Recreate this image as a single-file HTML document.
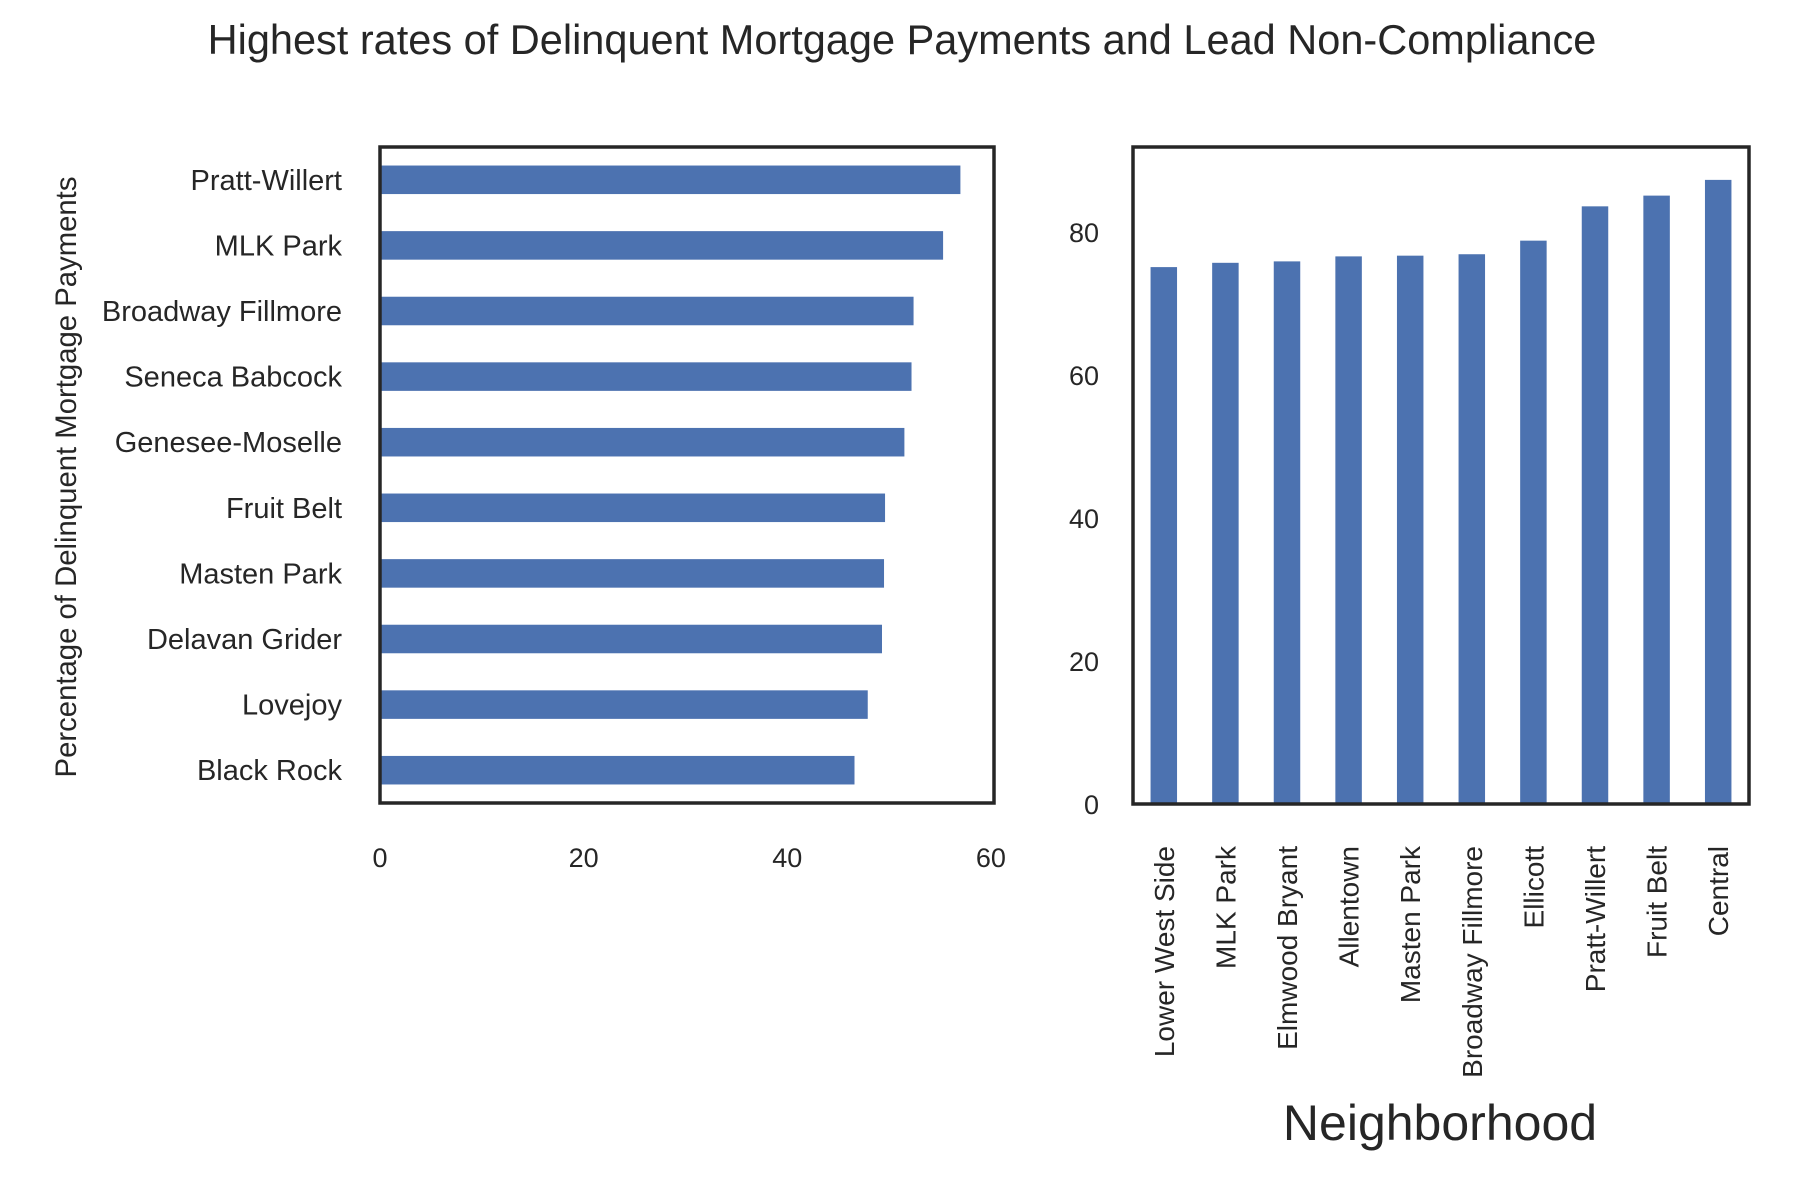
<!DOCTYPE html>
<html><head><meta charset="utf-8"><style>
html,body{margin:0;padding:0;background:#fff}
svg{display:block}
text{font-family:"Liberation Sans",Arial,sans-serif;fill:#262626}
</style></head><body>
<svg id="chart" width="1800" height="1200" viewBox="0 0 1800 1200">
<text x="902" y="54" font-size="41.5" text-anchor="middle">Highest rates of Delinquent Mortgage Payments and Lead Non-Compliance</text>
<g id="left"></g>
<g id="right"></g>
</svg>
<script>
const leftCats = ["Pratt-Willert","MLK Park","Broadway Fillmore","Seneca Babcock","Genesee-Moselle","Fruit Belt","Masten Park","Delavan Grider","Lovejoy","Black Rock"];
const leftVals = [57.0,55.3,52.4,52.2,51.5,49.6,49.5,49.3,47.9,46.6];
const leftTicks = [0,20,40,60];
const rightCats = ["Lower West Side","MLK Park","Elmwood Bryant","Allentown","Masten Park","Broadway Fillmore","Ellicott","Pratt-Willert","Fruit Belt","Central"];
const rightVals = [75.1,75.7,75.9,76.6,76.7,76.9,78.8,83.6,85.1,87.3];
const rightTicks = [0,20,40,60,80];

const NS="http://www.w3.org/2000/svg";
function mk(tag,attrs,parent,txt){const e=document.createElementNS(NS,tag);for(const k in attrs)e.setAttribute(k,attrs[k]);if(txt!==undefined)e.textContent=txt;parent.appendChild(e);return e;}
const COLOR="#4c72b0";

// Left panel: horizontal bars
const L={x0:380,x1:994,y0:147,y1:803,xmax:60.3};
const lg=document.getElementById('left');
const lx=v=>L.x0+(v/L.xmax)*(L.x1-L.x0);
const slotL=(L.y1-L.y0)/leftCats.length;
const ly=i=>L.y0+slotL*(i+0.5);
leftVals.forEach((v,i)=>{
  const r=mk('rect',{x:L.x0,y:ly(i)-slotL*0.435/2,width:lx(v)-L.x0,height:slotL*0.435,fill:COLOR},lg);
  
  
  const t=mk('text',{x:342,y:ly(i)+10,'font-size':29,'text-anchor':'end'},lg,leftCats[i]);
  
  
});
leftTicks.forEach(v=>{
  const t=mk('text',{x:lx(v),y:867,'font-size':27,'text-anchor':'middle'},lg,String(v));
  
  
});
const lf=mk('rect',{x:L.x0,y:L.y0,width:L.x1-L.x0,height:L.y1-L.y0,fill:'none',stroke:'#262626','stroke-width':3.5},lg);


const yl=mk('text',{x:0,y:0,'font-size':29.3,'text-anchor':'middle',transform:'translate(76,477) rotate(-90)'},lg,'Percentage of Delinquent Mortgage Payments');



// Right panel: vertical bars
const R={x0:1133,x1:1749,y0:147,y1:804,ymax:91.9};
const rg=document.getElementById('right');
const ry=v=>R.y1-(v/R.ymax)*(R.y1-R.y0);
const slotR=(R.x1-R.x0)/rightCats.length;
const rx=i=>R.x0+slotR*(i+0.5);
rightVals.forEach((v,i)=>{
  const r=mk('rect',{x:rx(i)-slotR*0.43/2,y:ry(v),width:slotR*0.43,height:R.y1-ry(v),fill:COLOR},rg);
  
  
  const t=mk('text',{x:0,y:0,'font-size':28,'text-anchor':'end',transform:`translate(${rx(i)+10},846) rotate(-90)`},rg,rightCats[i]);
  
  
});
rightTicks.forEach(v=>{
  const t=mk('text',{x:1099,y:ry(v)+10,'font-size':27,'text-anchor':'end'},rg,String(v));
  
  
});
const rf=mk('rect',{x:R.x0,y:R.y0,width:R.x1-R.x0,height:R.y1-R.y0,fill:'none',stroke:'#262626','stroke-width':3.5},rg);


const xl=mk('text',{x:1440,y:1140,'font-size':50,'text-anchor':'middle'},rg,'Neighborhood');


</script>
</body></html>
